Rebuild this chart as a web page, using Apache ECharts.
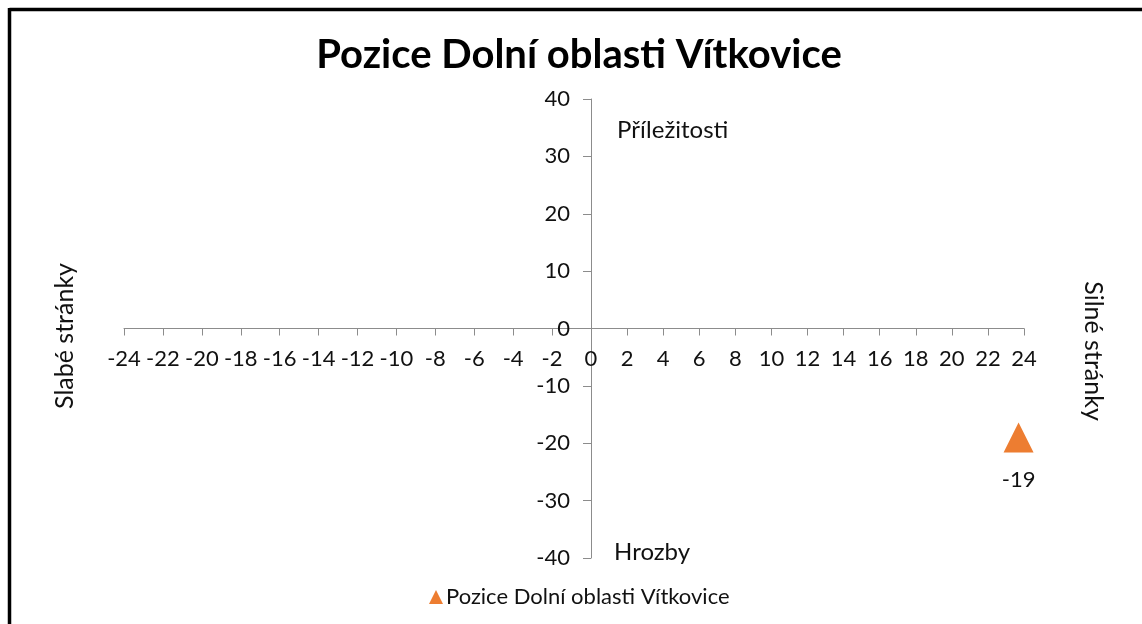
<!DOCTYPE html>
<html>
<head>
<meta charset="utf-8">
<script src="https://cdn.jsdelivr.net/npm/echarts@6/dist/echarts.min.js"></script>
<style>
html,body{margin:0;padding:0;background:#fff;}
#c{width:1142px;height:624px;}
</style>
</head>
<body>
<div id="c"></div>
<script>
const titleText = 'Pozice Dolní oblasti Vítkovice';
const seriesName = 'Pozice Dolní oblasti Vítkovice';
const pointX = [23.7];
const pointY = [-19];
const xNegRange = [-24, 0];
const xPosRange = [0, 24];
const yRange = [-40, 40];
const xStep = 2;
const yStep = 10;
const quadTop = 'Příležitosti';
const quadBottom = 'Hrozby';
const sideLeft = 'Slabé stránky';
const sideRight = 'Silné stránky';

const FONT = 'Lato';
const axisGray = '#8c8c8c';
const txt = '#111';

const GRID_TOP = 99, GRID_H = 459;
// horizontal axis drawn at y = 0 of the value range
const zeroOffset = -GRID_H * (0 - yRange[0]) / (yRange[1] - yRange[0]);

const chart = echarts.init(document.getElementById('c'));
const points = pointX.map((x, i) => [x, pointY[i]]);

const xAxisCommon = {
  type: 'value', position: 'bottom', offset: zeroOffset, interval: xStep,
  axisLine: {show: true, onZero: false, lineStyle: {color: axisGray}},
  axisTick: {show: true, length: 7, lineStyle: {color: axisGray}},
  splitLine: {show: false}
};

chart.setOption({
  animation: false,
  backgroundColor: '#fff',
  title: {
    text: titleText,
    left: 574, top: 30, textAlign: 'center',
    textStyle: {fontFamily: FONT, fontWeight: 'bold', fontSize: 40, color: '#000'}
  },
  legend: {
    data: [{name: seriesName, icon: 'triangle'}],
    left: 424, top: 581,
    itemWidth: 14, itemHeight: 14, itemGap: 6,
    textStyle: {fontFamily: FONT, fontSize: 22, color: txt, padding: [0,0,0,-2]}
  },
  grid: [
    {left: 124, width: 467, top: GRID_TOP, height: GRID_H},
    {left: 591, width: 433, top: GRID_TOP, height: GRID_H}
  ],
  xAxis: [
    Object.assign({}, xAxisCommon, {gridIndex: 0, min: xNegRange[0], max: xNegRange[1],
      axisLabel: {showMaxLabel: false, margin: 19, fontFamily: FONT, fontSize: 22, color: txt}}),
    Object.assign({}, xAxisCommon, {gridIndex: 1, min: xPosRange[0], max: xPosRange[1],
      axisLabel: {margin: 19, fontFamily: FONT, fontSize: 22, color: txt}})
  ],
  yAxis: [
    {type: 'value', gridIndex: 0, min: yRange[0], max: yRange[1], interval: yStep, show: false},
    {type: 'value', gridIndex: 1, min: yRange[0], max: yRange[1], interval: yStep,
     position: 'left',
     axisLine: {show: true, onZero: false, lineStyle: {color: axisGray}},
     axisTick: {show: true, length: 8, lineStyle: {color: axisGray}},
     axisLabel: {margin: 21, fontFamily: FONT, fontSize: 22, color: txt},
     splitLine: {show: false}}
  ],
  series: [{
    name: seriesName,
    type: 'scatter',
    xAxisIndex: 1, yAxisIndex: 1,
    symbol: 'triangle',
    symbolSize: 30,
    itemStyle: {color: '#ED7D31', opacity: 1},
    label: {show: true, position: 'bottom', distance: 16,
            formatter: p => String(p.value[1]),
            fontFamily: FONT, fontSize: 22, color: txt},
    data: points
  }],
  graphic: [
    {type: 'line', shape: {x1: 9.5, y1: 9.5, x2: 1142, y2: 9.5}, style: {stroke: '#000', lineWidth: 3.5}},
    {type: 'line', shape: {x1: 9.5, y1: 8, x2: 9.5, y2: 624}, style: {stroke: '#000', lineWidth: 3.5}},
    {type: 'text', x: 617, y: 130, style: {text: quadTop, fontFamily: FONT, fontSize: 24, fill: txt, textVerticalAlign: 'middle'}},
    {type: 'text', x: 614, y: 552, style: {text: quadBottom, fontFamily: FONT, fontSize: 24, fill: txt, textVerticalAlign: 'middle'}},
    {type: 'text', x: 65, y: 336, rotation: Math.PI/2, style: {text: sideLeft, fontFamily: FONT, fontSize: 25, fill: txt, textAlign: 'center', textVerticalAlign: 'middle'}},
    {type: 'text', x: 1093, y: 351, rotation: -Math.PI/2, style: {text: sideRight, fontFamily: FONT, fontSize: 25, fill: txt, textAlign: 'center', textVerticalAlign: 'middle'}}
  ]
});
</script>
</body>
</html>
